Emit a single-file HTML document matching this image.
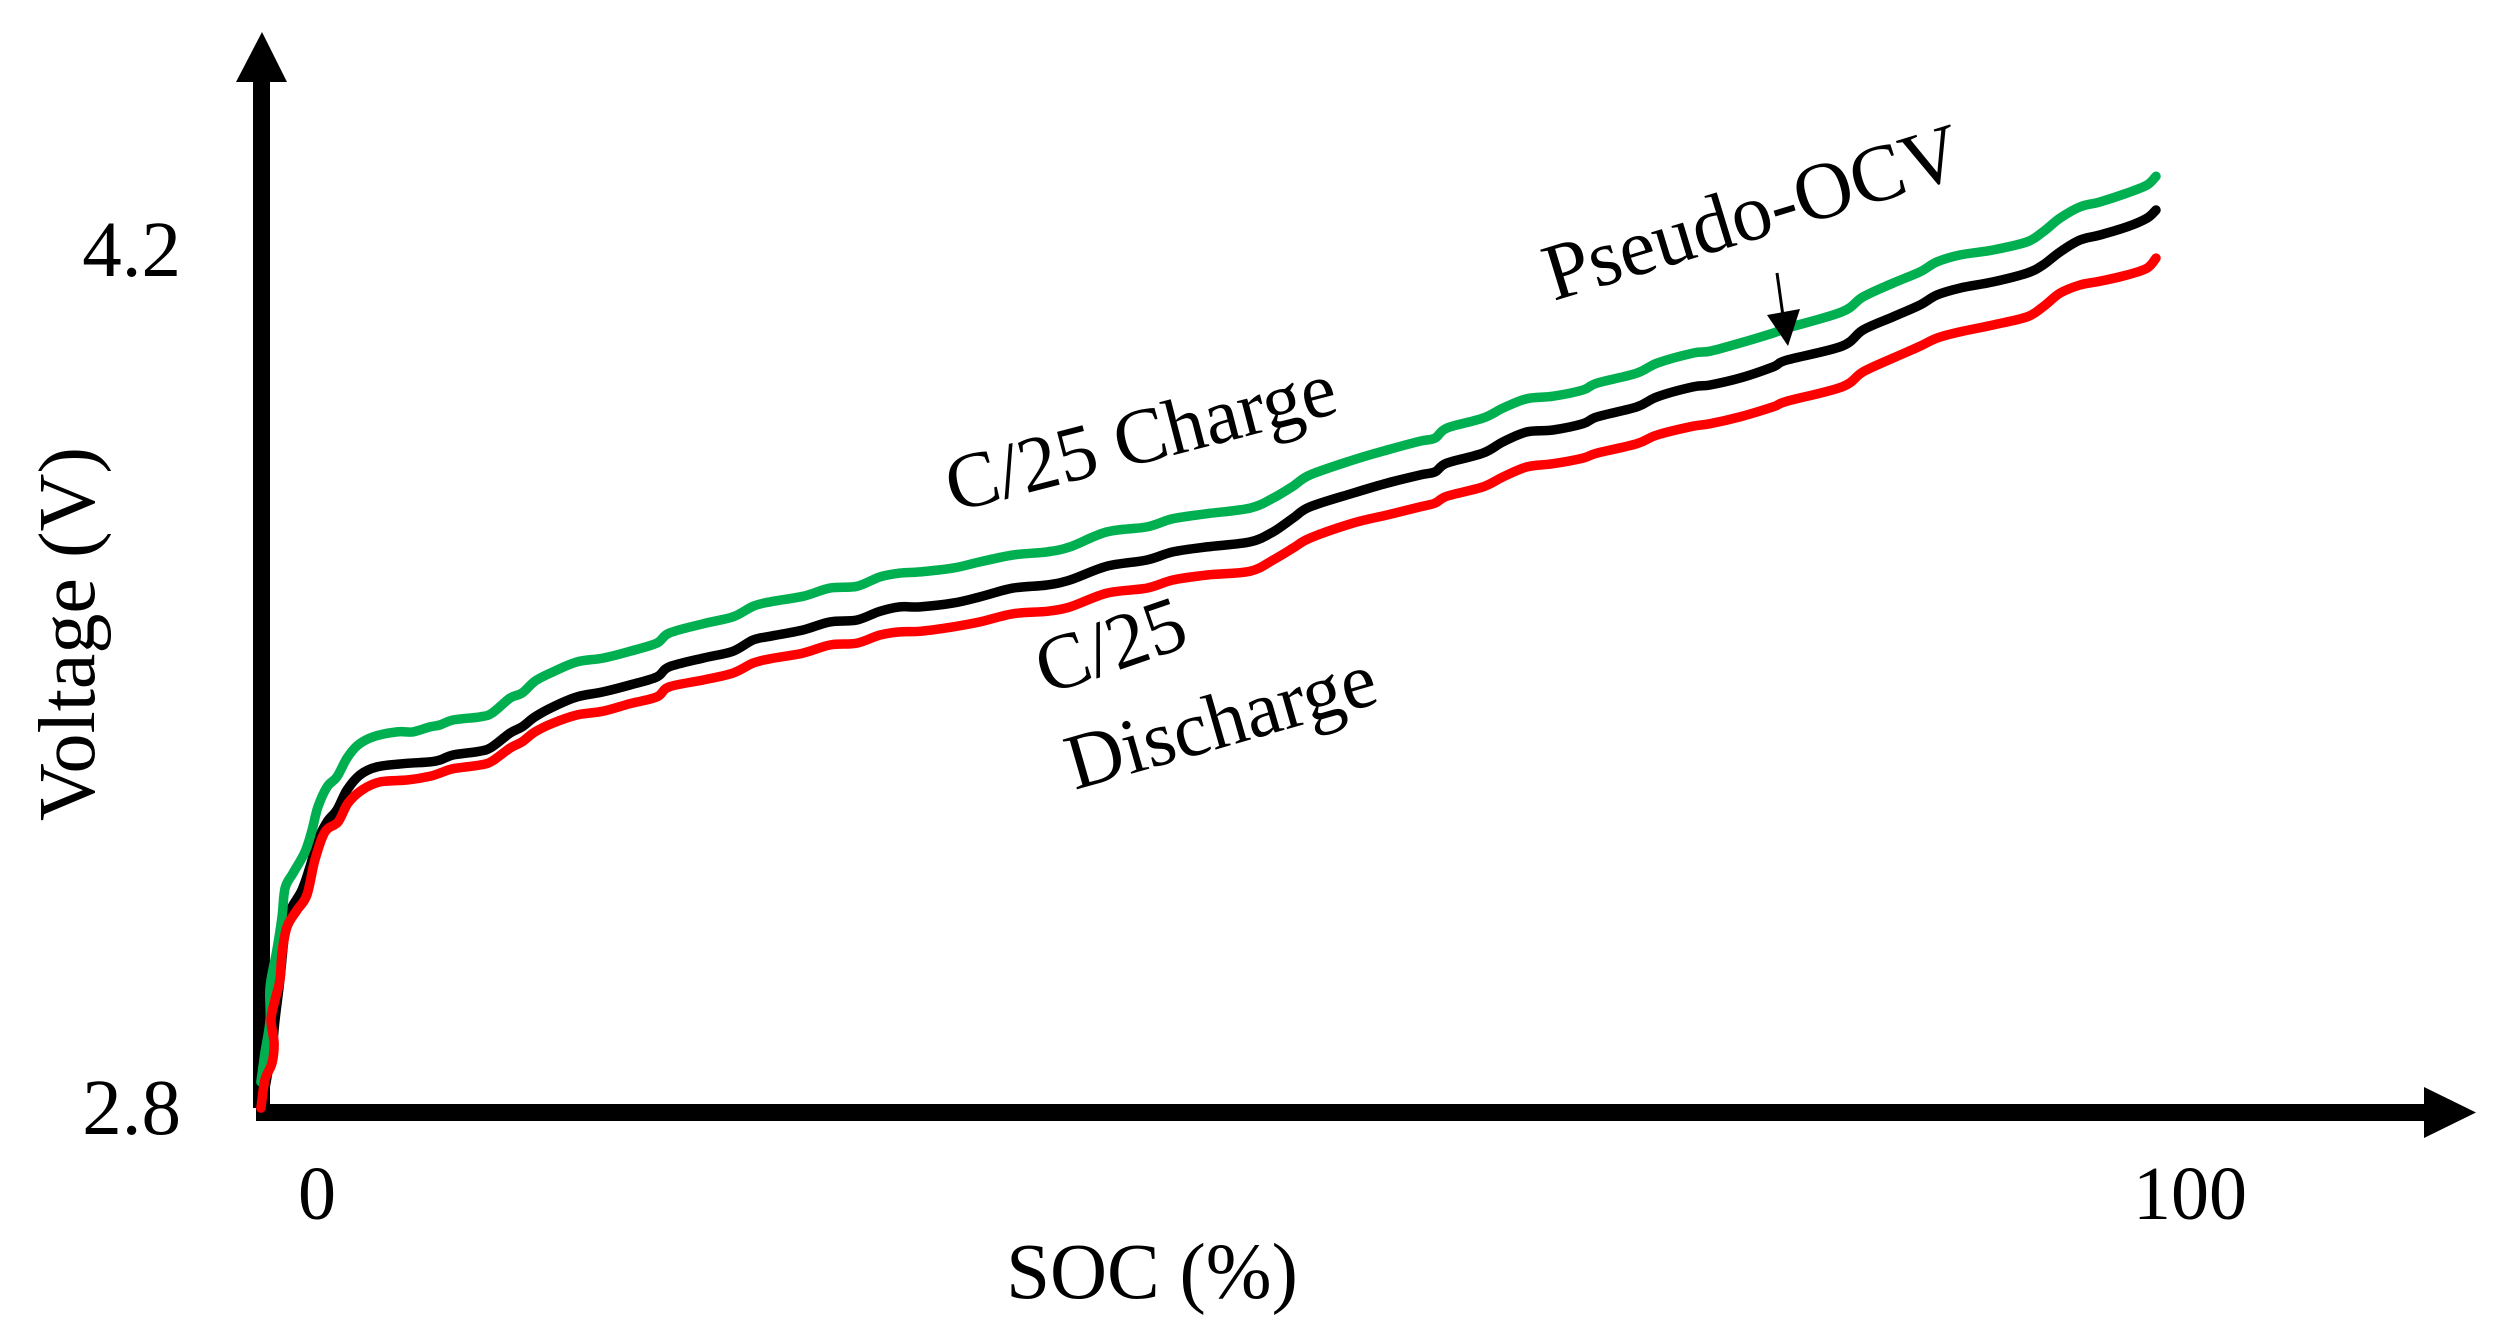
<!DOCTYPE html>
<html lang="en">
<head>
<meta charset="utf-8">
<title>Voltage vs SOC</title>
<style>
html,body{margin:0;padding:0;background:#fff;}
svg{display:block;}
text{font-family:"Liberation Serif","Times New Roman",serif;fill:#000;font-size:79px;}
</style>
</head>
<body>
<svg id="chart" xmlns="http://www.w3.org/2000/svg" width="2501" height="1344" viewBox="0 0 2501 1344">
  <rect x="0" y="0" width="2501" height="1344" fill="#fff"/>
  <g>
    <rect x="253" y="80" width="17" height="1028" fill="#000"/>
    <polygon points="262,32 236,82 287,82" fill="#000"/>
  </g>
  <g>
    <rect x="256" y="1104" width="2172" height="17" fill="#000"/>
    <polygon points="2476,1112.5 2424,1087 2424,1138" fill="#000"/>
  </g>
  <g id="series"></g>
  <g id="ticks"></g>
  <text x="1152" y="1298" text-anchor="middle">SOC (%)</text>
  <text font-size="80" style="font-size:80px" text-anchor="middle" transform="translate(94,634) rotate(-90)">Voltage (V)</text>
  <text text-anchor="middle" transform="translate(1147,462) rotate(-14.5)">C/25 Charge</text>
  <text text-anchor="middle" transform="translate(1119,670) rotate(-19)">C/25</text>
  <text text-anchor="middle" transform="translate(1228,746) rotate(-16)">Discharge</text>
  <text style="font-size:81px" text-anchor="middle" transform="translate(1760,238) rotate(-17)">Pseudo-OCV</text>
  <g>
    <line x1="1777" y1="273" x2="1783" y2="316" stroke="#000" stroke-width="3"/>
    <polygon points="1788,346 1767,315 1800,309" fill="#000"/>
  </g>
</svg>
<script>
const chargeSoc = [0.05,0.26,0.53,0.53,0.89,1.16,1.32,1.74,2.37,2.74,3.05,3.53,4.05,4.58,5.16,5.95,7.21,8.05,8.95,9.47,10.16,11.58,12.21,13.16,13.79,14.47,15.42,16.68,18.05,19.47,20.89,21.53,23.32,24.89,25.95,26.84,28.58,30.00,31.42,32.63,33.68,34.74,36.47,37.89,39.63,41.42,42.63,44.58,46.68,48.05,49.84,52.11,53.32,54.37,55.26,57.53,59.32,61.05,61.84,62.47,64.37,65.42,66.68,68.05,69.63,70.37,72.47,73.53,75.42,76.32,77.89,79.63,80.37,83.26,84.37,85.95,87.37,88.26,89.47,91.21,93.00,93.84,94.74,95.79,96.84,98.26,99.32,99.79];
const chargeVoltage = [2.853,2.899,2.952,3.005,3.064,3.117,3.163,3.187,3.221,3.256,3.293,3.325,3.341,3.371,3.392,3.405,3.413,3.413,3.421,3.424,3.432,3.437,3.443,3.467,3.475,3.494,3.509,3.525,3.531,3.542,3.555,3.571,3.586,3.597,3.614,3.621,3.630,3.643,3.646,3.661,3.667,3.669,3.675,3.685,3.696,3.701,3.709,3.733,3.741,3.754,3.762,3.771,3.787,3.806,3.824,3.848,3.864,3.878,3.883,3.899,3.915,3.931,3.946,3.950,3.960,3.971,3.987,4.003,4.019,4.022,4.035,4.051,4.059,4.085,4.109,4.131,4.149,4.165,4.176,4.184,4.197,4.213,4.235,4.253,4.261,4.275,4.288,4.302];
const pseudoOcvSoc = [0.16,0.37,0.63,0.79,1.05,1.42,2.21,2.63,3.05,3.53,4.05,4.58,5.26,6.16,7.53,8.95,9.47,10.16,11.58,12.21,13.16,13.79,14.47,15.42,16.68,18.05,19.47,20.89,21.53,23.32,24.89,25.95,26.84,28.58,30.00,31.42,32.63,33.68,34.74,36.47,37.89,39.63,41.42,42.63,44.58,46.68,48.05,49.84,52.11,53.32,54.37,55.26,57.53,59.32,61.05,61.84,62.47,64.37,65.42,66.68,68.05,69.63,70.37,72.47,73.53,75.42,76.32,77.89,79.63,80.37,83.26,84.37,85.95,87.37,88.26,89.47,91.21,93.00,93.84,94.74,95.79,96.84,98.26,99.32,99.79];
const pseudoOcvVoltage = [2.824,2.861,2.904,2.952,3.016,3.112,3.160,3.197,3.240,3.269,3.288,3.320,3.344,3.357,3.362,3.365,3.368,3.376,3.382,3.389,3.411,3.421,3.437,3.453,3.469,3.477,3.488,3.501,3.517,3.531,3.542,3.560,3.566,3.576,3.589,3.592,3.606,3.613,3.613,3.619,3.629,3.643,3.648,3.656,3.678,3.688,3.701,3.709,3.717,3.733,3.755,3.773,3.795,3.811,3.824,3.829,3.843,3.859,3.877,3.893,3.896,3.906,3.917,3.933,3.949,3.965,3.968,3.979,3.997,4.008,4.030,4.056,4.077,4.096,4.112,4.123,4.133,4.147,4.160,4.181,4.200,4.208,4.221,4.235,4.248];
const dischargeSoc = [0.05,0.26,0.63,0.74,0.58,0.79,1.05,1.16,1.42,1.95,2.47,2.89,3.42,4.11,4.63,5.37,6.32,7.74,8.95,9.47,10.16,11.58,12.21,13.16,13.79,14.47,15.42,16.68,18.05,19.47,20.89,21.53,23.32,24.89,25.95,26.84,28.58,30.00,31.42,32.63,33.68,34.74,36.47,37.89,39.63,41.42,42.63,44.58,46.68,48.05,49.84,52.11,53.32,54.37,55.26,57.53,59.32,61.05,61.84,62.47,64.37,65.42,66.68,68.05,69.63,70.37,72.47,73.53,75.42,76.32,77.89,79.63,80.37,83.26,84.37,85.95,87.37,88.26,89.47,91.21,93.00,93.84,94.74,95.79,96.84,98.26,99.32,99.79];
const dischargeVoltage = [2.811,2.856,2.883,2.915,2.952,2.984,3.016,3.059,3.101,3.128,3.152,3.208,3.253,3.269,3.299,3.320,3.333,3.336,3.342,3.347,3.354,3.360,3.366,3.387,3.397,3.413,3.427,3.440,3.446,3.458,3.469,3.485,3.496,3.507,3.523,3.530,3.539,3.552,3.555,3.568,3.573,3.574,3.581,3.589,3.602,3.606,3.613,3.635,3.643,3.656,3.664,3.670,3.688,3.707,3.723,3.747,3.760,3.773,3.779,3.790,3.805,3.821,3.837,3.842,3.851,3.859,3.874,3.888,3.902,3.906,3.917,3.933,3.942,3.965,3.989,4.011,4.030,4.043,4.053,4.064,4.077,4.093,4.115,4.128,4.134,4.144,4.155,4.171];
const yTickValues = [2.8,4.2];
const yTickLabels = ["2.8","4.2"];
const xTickValues = [0,100];
const xTickLabels = ["0","100"];

const NS = "http://www.w3.org/2000/svg";
function xScale(soc){ return 260 + soc * 19; }
function yScale(v){ return 1115 - (v - 2.8) * 625; }

function smoothPath(xs, ys){
  let d = "M" + xs[0].toFixed(1) + " " + ys[0].toFixed(1);
  for (let i = 0; i < xs.length - 1; i++){
    const a = Math.max(i - 1, 0), b = i + 1, c = Math.min(i + 2, xs.length - 1);
    const c1x = xs[i] + (xs[b] - xs[a]) / 6, c1y = ys[i] + (ys[b] - ys[a]) / 6;
    const c2x = xs[b] - (xs[c] - xs[i]) / 6, c2y = ys[b] - (ys[c] - ys[i]) / 6;
    d += " C" + c1x.toFixed(1) + " " + c1y.toFixed(1) + " " + c2x.toFixed(1) + " " + c2y.toFixed(1) + " " + xs[b].toFixed(1) + " " + ys[b].toFixed(1);
  }
  return d;
}

function drawSeries(socs, values, color, name){
  const p = document.createElementNS(NS, "path");
  p.setAttribute("d", smoothPath(socs.map(xScale), values.map(yScale)));
  p.setAttribute("fill", "none");
  p.setAttribute("stroke", color);
  p.setAttribute("stroke-width", "9.5");
  p.setAttribute("stroke-linecap", "round");
  p.setAttribute("stroke-linejoin", "round");
  
  
  document.getElementById("series").appendChild(p);
}
drawSeries(pseudoOcvSoc, pseudoOcvVoltage, "#000000", "pseudo-ocv-line");
drawSeries(chargeSoc, chargeVoltage, "#00B050", "c25-charge-line");
drawSeries(dischargeSoc, dischargeVoltage, "#FF0000", "c25-discharge-line");

const ticks = document.getElementById("ticks");
yTickValues.forEach(function(v, i){
  const t = document.createElementNS(NS, "text");
  t.setAttribute("x", "181");
  t.setAttribute("y", (yScale(v) + (v > 3 ? 36 : 19)).toFixed(1));
  t.setAttribute("text-anchor", "end");
  t.textContent = yTickLabels[i];
  
  
  ticks.appendChild(t);
});
xTickValues.forEach(function(v, i){
  const t = document.createElementNS(NS, "text");
  t.setAttribute("x", (xScale(v) + (v === 0 ? 57 : 30)).toFixed(1));
  t.setAttribute("y", "1219");
  t.setAttribute("text-anchor", "middle");
  t.style.fontSize = "76px";
  t.textContent = xTickLabels[i];
  
  
  ticks.appendChild(t);
});
</script>
</body>
</html>
